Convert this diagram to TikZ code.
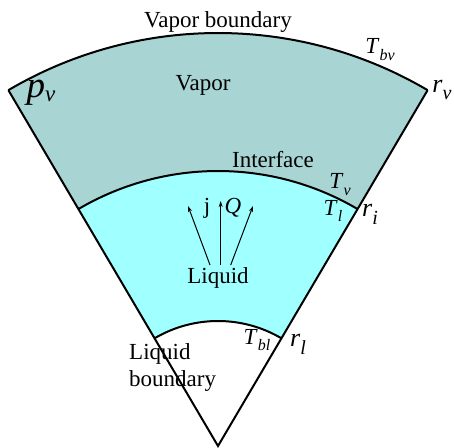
\documentclass[tikz,border=0pt]{standalone}
\usepackage{fontspec}
\setmainfont{Liberation Serif}
\usetikzlibrary{arrows.meta,calc}
\definecolor{vaporfill}{RGB}{168,212,212}
\definecolor{liquidfill}{RGB}{160,255,255}
\newcommand{\sbs}[3][16]{\textit{#2}\raisebox{-0.3em}{\fontsize{#1}{#1}\selectfont\textit{#3}}}
\begin{document}
\begin{tikzpicture}[x=1pt,y=1pt,
  lbl/.style={inner sep=0pt,font=\fontsize{23}{27}\selectfont},
  border/.style={line width=2pt},
  flow/.style={line width=1pt,-{Stealth[length=6pt,width=4pt]}}]
\useasboundingbox (0,0) rectangle (454,447);
\coordinate (O) at (218,1);
\coordinate (VL) at ($(O)+(120.5:413)$);
\coordinate (VR) at ($(O)+(59.5:413)$);
\coordinate (IL) at ($(O)+(120.5:275)$);
\coordinate (IR) at ($(O)+(59.5:275)$);
\coordinate (BL) at ($(O)+(120.5:125)$);
\coordinate (BR) at ($(O)+(59.5:125)$);
% regions
\fill[vaporfill] (VR) arc[start angle=59.5,end angle=120.5,radius=413] -- (IL)
  arc[start angle=120.5,end angle=59.5,radius=275] -- cycle;
\fill[liquidfill] (IR) arc[start angle=59.5,end angle=120.5,radius=275] -- (BL)
  arc[start angle=120.5,end angle=59.5,radius=125] -- cycle;
% boundaries
\draw[border] (VR) arc[start angle=59.5,end angle=120.5,radius=413];
\draw[border] (IR) arc[start angle=59.5,end angle=120.5,radius=275];
\draw[border] (BR) arc[start angle=59.5,end angle=120.5,radius=125];
\draw[border,line join=miter] (VL) -- (O) -- (VR);
% labels
\node[lbl] (vb) at (218,425) {Vapor boundary};
\node[lbl] (tbv) at (380,397) {\sbs{T}{bv}};
\node[lbl] (pv) at (41,354) {\fontsize{37}{37}\selectfont\textit{p}\raisebox{-0.1em}{\fontsize{23}{23}\selectfont\textit{v}}};
\node[lbl] (rv) at (442,357) {\fontsize{26}{26}\selectfont\sbs[20]{r}{v}};
\node[lbl] (vap) at (203,362) {Vapor};
\node[lbl] (intf) at (273,287) {Interface};
\node[lbl] (tv) at (340,262) {\sbs{T}{v}};
\node[lbl] (tl) at (333,236) {\sbs{T}{l}};
\node[lbl] (ri) at (370,233) {\fontsize{26}{26}\selectfont\sbs[20]{r}{i}};
\node[lbl] (liq) at (218,169) {Liquid};
\node[lbl] (jj) at (207,239) {j};
\node[lbl] (qq) at (233,239) {\textit{Q}};
\node[lbl] (tbl) at (257,107) {\sbs{T}{bl}};
\node[lbl] (rl) at (298,103) {\fontsize{26}{26}\selectfont\sbs[20]{r}{l}};
\node[lbl,anchor=north west,align=left] (lb) at (129,104) {Liquid\\boundary};
% flux arrows
\coordinate (a1) at (210,182);
\coordinate (a2) at (220.7,182);
\coordinate (a3) at (230.7,182);
\coordinate (b1) at (188,241);
\coordinate (b2) at (220.7,246);
\coordinate (b3) at (253,241);
\draw[flow] (a1) -- (b1);
\draw[flow] (a2) -- (b2);
\draw[flow] (a3) -- (b3);
\end{tikzpicture}
\end{document}
